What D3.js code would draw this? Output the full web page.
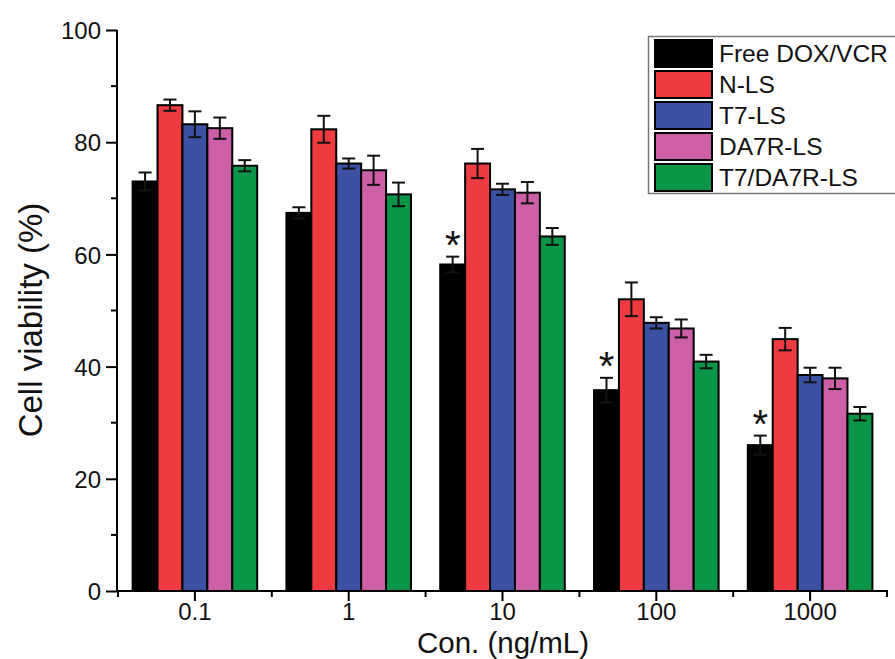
<!DOCTYPE html>
<html>
<head>
<meta charset="utf-8">
<script src="https://cdn.jsdelivr.net/npm/d3@7"></script>
<style>
  html, body { margin: 0; padding: 0; background: #fff; }
  svg { display: block; font-family: "Liberation Sans", Arial, sans-serif; }
</style>
</head>
<body>
<svg id="chart" width="895" height="659"></svg>
<script>
const categories = ["0.1", "1", "10", "100", "1000"];
const seriesNames = ["Free DOX/VCR", "N-LS", "T7-LS", "DA7R-LS", "T7/DA7R-LS"];
const seriesColors = ["#000000", "#ee3b3f", "#3b52a4", "#cc5fa8", "#0a9548"];
// values[series][category]
const freeValues  = [73.0, 67.4, 58.2, 35.8, 26.0];
const nlsValues   = [86.6, 82.3, 76.2, 52.0, 44.9];
const t7Values    = [83.2, 76.2, 71.6, 47.8, 38.5];
const da7rValues  = [82.5, 75.0, 71.0, 46.8, 37.9];
const dualValues  = [75.8, 70.7, 63.2, 40.9, 31.6];
const freeErr = [1.6, 1.0, 1.4, 2.2, 1.7];
const nlsErr  = [1.0, 2.4, 2.6, 3.0, 2.0];
const t7Err   = [2.3, 0.9, 1.0, 1.0, 1.3];
const da7rErr = [1.9, 2.6, 1.9, 1.6, 1.9];
const dualErr = [1.0, 2.1, 1.5, 1.2, 1.2];
const significant = [false, false, true, true, true];
const yTicks = [0, 20, 40, 60, 80, 100];
const yMinorTicks = [10, 30, 50, 70, 90];
const xLabel = "Con. (ng/mL)";
const yLabel = "Cell viability (%)";

const allValues = [freeValues, nlsValues, t7Values, da7rValues, dualValues];
const allErrs = [freeErr, nlsErr, t7Err, da7rErr, dualErr];

const svg = d3.select("#chart");
const x0 = d3.scaleBand().domain(categories).range([118, 887]).paddingInner(0.19).paddingOuter(0.095);
const x1 = d3.scaleBand().domain(seriesNames).range([0, x0.bandwidth()]);
const y = d3.scaleLinear().domain([0, 100]).range([591, 30]);

const data = [];
categories.forEach((c, ci) => {
  seriesNames.forEach((s, si) => {
    data.push({cat: c, ci, s, si, v: allValues[si][ci], e: allErrs[si][ci]});
  });
});

// bars
svg.append("g").selectAll("rect").data(data).join("rect")
  .attr("x", d => x0(d.cat) + x1(d.s))
  .attr("y", d => y(d.v))
  .attr("width", x1.bandwidth())
  .attr("height", d => y(0) - y(d.v))
  .attr("fill", d => seriesColors[d.si])
  .attr("stroke", "#000")
  .attr("stroke-width", 2);

// error bars
const eb = svg.append("g").attr("stroke", "#111").attr("stroke-width", 2);
data.forEach(d => {
  const cx = x0(d.cat) + x1(d.s) + x1.bandwidth() / 2;
  eb.append("line").attr("x1", cx).attr("x2", cx).attr("y1", y(d.v - d.e)).attr("y2", y(d.v + d.e));
  eb.append("line").attr("x1", cx - 6.5).attr("x2", cx + 6.5).attr("y1", y(d.v + d.e)).attr("y2", y(d.v + d.e));
  eb.append("line").attr("x1", cx - 6.5).attr("x2", cx + 6.5).attr("y1", y(d.v - d.e)).attr("y2", y(d.v - d.e));
});

// significance stars
categories.forEach((c, ci) => {
  if (!significant[ci]) return;
  const cx = x0(c) + x1(seriesNames[0]) + x1.bandwidth() / 2;
  svg.append("text").attr("x", cx).attr("y", y(freeValues[ci] + freeErr[ci]) + 2)
    .attr("text-anchor", "middle").attr("font-size", 40).attr("fill", "#111").text("*");
});

// y axis
const yAxis = d3.axisLeft(y).tickValues(yTicks).tickSize(11).tickPadding(5).tickSizeOuter(0);
const gy = svg.append("g").attr("transform", "translate(117,0)").call(yAxis);
gy.attr("font-family", null).attr("font-size", null);
gy.select(".domain").attr("stroke-width", 2).attr("d", `M0,${y(0)+1}V${y(100)}`);
gy.selectAll(".tick line").attr("stroke-width", 2);
gy.selectAll(".tick text").attr("font-size", 24).attr("fill", "#111").attr("dy", "0.36em");
const gyMinor = svg.append("g").attr("transform", "translate(117,0)");
gyMinor.selectAll("line").data(yMinorTicks).join("line")
  .attr("x1", -6).attr("x2", 0).attr("y1", d => y(d)).attr("y2", d => y(d))
  .attr("stroke", "#000").attr("stroke-width", 2);

// x axis
const xAxis = d3.axisBottom(x0).tickSize(10).tickPadding(2).tickSizeOuter(0);
const gx = svg.append("g").attr("transform", `translate(0,${y(0)})`).call(xAxis);
gx.attr("font-family", null).attr("font-size", null);
gx.select(".domain").attr("stroke-width", 2).attr("d", "M116,0H888");
gx.selectAll(".tick line").attr("stroke-width", 2);
gx.selectAll(".tick text").attr("font-size", 24).attr("fill", "#111");
const bounds = categories.map(c => x0(c) - x0.step() * x0.paddingInner() / 2);
bounds.push(x0(categories[categories.length - 1]) + x0.bandwidth() + x0.step() * x0.paddingInner() / 2);
svg.append("g").selectAll("line").data(bounds).join("line")
  .attr("x1", d => d).attr("x2", d => d).attr("y1", y(0)).attr("y2", y(0) + 6)
  .attr("stroke", "#000").attr("stroke-width", 2);

// axis titles
svg.append("text").attr("x", 503).attr("y", 653).attr("text-anchor", "middle")
  .attr("font-size", 29.5).attr("fill", "#111").text(xLabel);
svg.append("text").attr("transform", `translate(42,320) rotate(-90)`)
  .attr("text-anchor", "middle").attr("font-size", 33).attr("fill", "#111").text(yLabel);

// legend
const lg = svg.append("g");
lg.append("rect").attr("x", 648.5).attr("y", 36.5).attr("width", 260).attr("height", 157)
  .attr("fill", "#fff").attr("stroke", "#777").attr("stroke-width", 1.5);
seriesNames.forEach((s, i) => {
  const top = 40 + i * 31;
  lg.append("rect").attr("x", 655).attr("y", top).attr("width", 57).attr("height", 27)
    .attr("fill", seriesColors[i]).attr("stroke", "#000").attr("stroke-width", 2);
  lg.append("text").attr("x", 719).attr("y", top + 22).attr("font-size", 24.5).attr("fill", "#111").text(s);
});
</script>
</body>
</html>
